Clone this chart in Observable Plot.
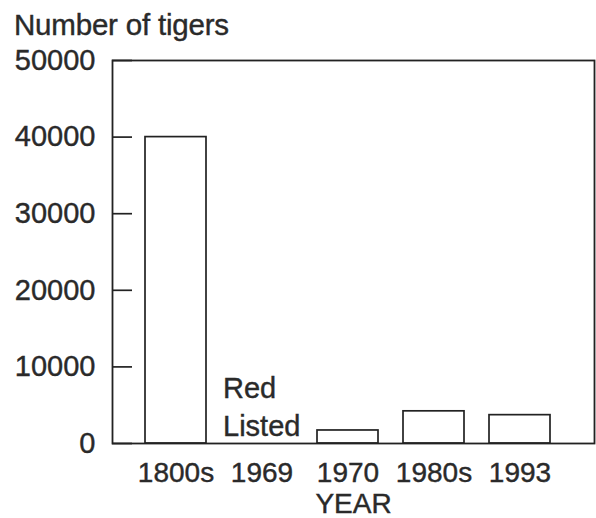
<!DOCTYPE html>
<html>
<head>
<meta charset="utf-8">
<script src="https://cdn.jsdelivr.net/npm/d3@7"></script>
<script src="https://cdn.jsdelivr.net/npm/@observablehq/plot@0.6"></script>
<style>
  body { margin: 0; background: #fff; font-family: "Liberation Sans", Arial, sans-serif; }
  #title { height: 40px; line-height: 50px; font-size: 29.5px; color: #2a2a2a; padding-left: 14px; white-space: nowrap; letter-spacing: -0.2px; -webkit-text-stroke: 0.4px #2a2a2a; }
  #chart svg text { stroke: #2a2a2a; stroke-width: 0.4px; }
</style>
</head>
<body>
<div id="title">Number of tigers</div>
<div id="chart"></div>
<script>
const years = ["1800s", "1969", "1970", "1980s", "1993"];
const tigers = [40000, 0, 1700, 4200, 3700];
const yTicks = [0, 10000, 20000, 30000, 40000, 50000];
const annotationText = "Red\nListed";
const annotationYear = "1969";
const xTitle = "YEAR";

const data = years.map((y, i) => ({year: y, count: tigers[i]}));

const chart = Plot.plot({
  width: 596,
  height: 478,
  marginTop: 20,
  marginBottom: 75,
  marginLeft: 112,
  marginRight: 2,
  style: {fontFamily: "Liberation Sans, Arial, sans-serif", fontSize: "29px", color: "#2a2a2a", background: "#fff"},
  x: {domain: years, paddingInner: 0.29, paddingOuter: 0.423, align: 0.43},
  y: {domain: [0, 50000]},
  marks: [
    Plot.barY(data.filter(d => d.count > 0), {x: "year", y: "count", fill: "white", stroke: "#222", strokeWidth: 1.7}),
    Plot.frame({stroke: "#222", strokeWidth: 1.8}),
    Plot.axisY({ticks: yTicks, tickSize: -20, tickPadding: 37, tickFormat: d => String(d), label: null, stroke: "#222", strokeWidth: 1.7}),
    Plot.axisX({tickSize: 0, tickPadding: 19, fontSize: 28, label: xTitle, labelAnchor: "center", labelOffset: 69, labelArrow: "none"}),
    Plot.text([annotationText], {x: () => annotationYear, y: () => 0, text: d => d, textAnchor: "start", lineAnchor: "bottom", lineHeight: 1.28, dx: -39, dy: -8, fill: "#2a2a2a", fontSize: 29})
  ]
});
document.getElementById("chart").appendChild(chart);
</script>
</body>
</html>
